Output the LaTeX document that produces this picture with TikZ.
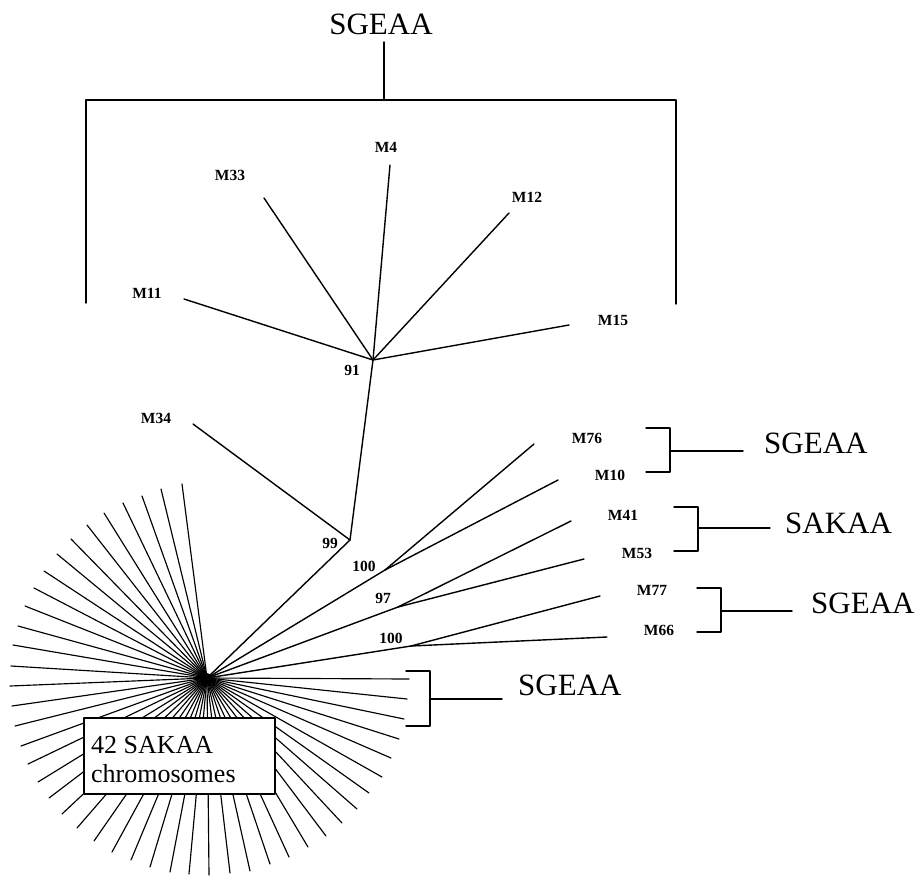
\documentclass[tikz,border=0pt]{standalone}
\usepackage{fontspec}
\setmainfont{Liberation Serif}
\begin{document}
\begin{tikzpicture}[x=1pt,y=-1pt,line cap=round,line join=round,
  branch/.style={line width=1.4pt},
  ray/.style={line width=1.15pt},
  leaf/.style={font=\fontsize{15.5}{16}\selectfont\bfseries,inner sep=0pt},
  group/.style={font=\fontsize{31}{34}\selectfont,inner sep=0pt},
  boxtext/.style={font=\fontsize{26}{29}\selectfont,inner sep=0pt},
]
\useasboundingbox (0,0) rectangle (917,875);

% ---- coordinates of internal nodes and tips
\coordinate (c) at (207,678);
\coordinate (n99) at (350,540);
\coordinate (n91) at (373,360);
\coordinate (n100a) at (385,570);
\coordinate (n97) at (398,607);
\coordinate (n100b) at (411,646);
\coordinate (tM11) at (184,299);
\coordinate (tM33) at (264,198);
\coordinate (tM4) at (390,165);
\coordinate (tM12) at (509,213);
\coordinate (tM15) at (569,325);
\coordinate (tM34) at (193,424);
\coordinate (tM76) at (534,444);
\coordinate (tM10) at (558,480);
\coordinate (tM41) at (571,521);
\coordinate (tM53) at (584,559);
\coordinate (tM77) at (600,596);
\coordinate (tM66) at (607,637);

% ---- star of SAKAA chromosomes
\foreach \x/\y in {182/484,161/489,142/496,123/503,104/513,87/525,71/539,57/554,
  44/571,34/588,25/606,18/626,13/645,11/666,10/686,12/706,15/726,21/746,28/764,
  38/782,49/798,62/814,77/828,94/841,112/852,131/860,150/867,170/872,189/874,
  209/875,230/873,250/871,270/864,289/857,308/847,326/836,342/823,357/809,
  369/793,382/777,391/758,399/739,404/719,407/699,409/679}
  \draw[ray] (c) -- (\x,\y);
\fill (c) circle (5pt);

% ---- tree branches
\draw[branch] (c) -- (n99) -- (n91);
\draw[branch] (n99) -- (tM34);
\foreach \t in {tM11,tM33,tM4,tM12,tM15} \draw[branch] (n91) -- (\t);
\draw[branch] (c) -- (n100a);
\draw[branch] (n100a) -- (tM76);
\draw[branch] (n100a) -- (tM10);
\draw[branch] (c) -- (n97);
\draw[branch] (n97) -- (tM41);
\draw[branch] (n97) -- (tM53);
\draw[branch] (c) -- (n100b);
\draw[branch] (n100b) -- (tM77);
\draw[branch] (n100b) -- (tM66);

% ---- box
\node[draw,fill=white,line width=1.8pt,anchor=north west,inner sep=0pt,
  minimum width=191pt,minimum height=76pt] (box) at (83,717) {};
\node[boxtext,anchor=base west] (boxl1) at (91,753) {42 SAKAA};
\node[boxtext,anchor=base west] (boxl2) at (91,782) {chromosomes};

% ---- branch labels
\node[leaf] (lM4) at (386,147) {M4};
\node[leaf] (lM33) at (230,175) {M33};
\node[leaf] (lM12) at (527,197) {M12};
\node[leaf] (lM11) at (147,293) {M11};
\node[leaf] (lM15) at (613,320) {M15};
\node[leaf] (l91) at (352,370) {91};
\node[leaf] (lM34) at (156,418) {M34};
\node[leaf] (l99) at (330,543) {99};
\node[leaf] (l100a) at (364,566) {100};
\node[leaf] (l97) at (383,598) {97};
\node[leaf] (l100b) at (391,638) {100};
\node[leaf] (lM76) at (587,438) {M76};
\node[leaf] (lM10) at (610,475) {M10};
\node[leaf] (lM41) at (623,515) {M41};
\node[leaf] (lM53) at (637,553) {M53};
\node[leaf] (lM77) at (652,590) {M77};
\node[leaf] (lM66) at (659,630) {M66};

% ---- top SGEAA grouping
\node[group,anchor=base] (gtop) at (381,35) {SGEAA};
\coordinate (tb) at (384,100);
\draw[branch] (384,42) -- (tb);
\draw[branch] (86,303) -- (86,100) -- (676,100) -- (676,304);

% ---- side brackets
\draw[branch] (646,428) -- (670,428) -- (670,472) -- (646,472);
\draw[branch] (670,451) -- (743,451);
\node[group,anchor=base west] (g1) at (764,453) {SGEAA};

\draw[branch] (674,507) -- (698,507) -- (698,551) -- (674,551);
\draw[branch] (698,528) -- (770,528);
\node[group,anchor=base west] (g2) at (785,533) {SAKAA};

\draw[branch] (697,588) -- (721,588) -- (721,632) -- (697,632);
\draw[branch] (721,611) -- (792,611);
\node[group,anchor=base west] (g3) at (811,613) {SGEAA};

\draw[branch] (406,671) -- (430,671) -- (430,726) -- (406,726);
\draw[branch] (430,699) -- (502,699);
\node[group,anchor=base west] (g4) at (518,695) {SGEAA};
\end{tikzpicture}
\end{document}
